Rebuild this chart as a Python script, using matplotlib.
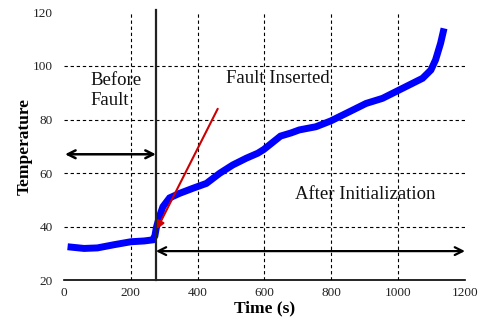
import matplotlib
matplotlib.use("Agg")
import matplotlib.pyplot as plt

# Data (trend of the noisy temperature trace)
time_s = [21, 60, 100, 150, 200, 240, 265, 272, 276, 285, 296, 316, 346, 386, 426, 466,
          505, 545, 580, 598, 620, 648, 680, 704, 754, 799, 854, 904, 953, 993,
          1033, 1073, 1098, 1112, 1127, 1135]
temperature = [32.3, 31.8, 32.0, 33.2, 34.3, 34.6, 35.0, 36.5, 39.4, 43.5, 47.4, 50.7, 52.4, 54.3, 56.1, 59.9,
               63.0, 65.5, 67.4, 68.8, 71.0, 73.8, 75.0, 76.1, 77.3, 79.5, 82.9, 86.0, 87.9, 90.4,
               92.9, 95.4, 98.5, 102.3, 108.5, 112.8]

x_ticks = [0, 200, 400, 600, 800, 1000, 1200]
y_ticks = [20, 40, 60, 80, 100, 120]
x_grid = [200, 400, 600, 800, 1000]
y_grid = [40, 60, 80, 100]
fault_time = 275

serif = ["Liberation Serif", "DejaVu Serif"]

fig = plt.figure(figsize=(4.82, 3.22), dpi=100)
ax = fig.add_axes([0.1328, 0.1304, 0.8319, 0.8308])
ax.set_xlim(0, 1200)
ax.set_ylim(20, 120)

for g in y_grid:
    ax.axhline(g, color="black", lw=0.8, ls=(0, (3, 2.5)), zorder=1)
for g in x_grid:
    ax.axvline(g, color="black", lw=0.8, ls=(0, (3, 2.5)), zorder=1)

ax.plot(time_s, temperature, color="#0000ff", lw=5.0, solid_joinstyle="miter", zorder=3)

ax.plot([fault_time, fault_time], [20, 121], color="#222222", lw=1.6, zorder=4, clip_on=False)

ax.annotate("", xy=(3, 67), xytext=(fault_time, 67),
            arrowprops=dict(arrowstyle="<->", color="black", lw=1.8, mutation_scale=14,
                            shrinkA=0, shrinkB=0), zorder=5)
ax.annotate("", xy=(fault_time, 30.8), xytext=(1200, 30.8),
            arrowprops=dict(arrowstyle="<->", color="black", lw=1.6, mutation_scale=14,
                            shrinkA=0, shrinkB=0), zorder=5, annotation_clip=False)
ax.annotate("", xy=(278, 39), xytext=(460, 84),
            arrowprops=dict(arrowstyle="-|>", color="#cc0000", lw=1.5, mutation_scale=11,
                            shrinkA=0, shrinkB=0), zorder=6)

ax.text(78, 90.8, "Before\nFault", family=serif, fontsize=13.5, color="#111111",
        ha="left", va="center", linespacing=1.25)
ax.text(484, 95.5, "Fault Inserted", family=serif, fontsize=13.5, color="#111111",
        ha="left", va="center")
ax.text(692, 52.1, "After Initialization", family=serif, fontsize=13.5, color="#111111",
        ha="left", va="center")

for s in ["top", "right", "left"]:
    ax.spines[s].set_visible(False)
ax.spines["bottom"].set_color("black")
ax.spines["bottom"].set_linewidth(1.2)

ax.set_xticks(x_ticks)
ax.set_yticks(y_ticks)
ax.tick_params(axis="both", length=0, labelsize=9.5, colors="#222222")
ax.tick_params(axis="y", pad=8)
ax.tick_params(axis="x", pad=5)
for lab in ax.get_xticklabels() + ax.get_yticklabels():
    lab.set_family(serif)

ax.set_xlabel("Time (s)", family=serif, fontsize=12.5, fontweight="bold", labelpad=1)
ax.set_ylabel("Temperature", family=serif, fontsize=12.5, fontweight="bold", labelpad=0)

fig.savefig("out.png", dpi=100)
